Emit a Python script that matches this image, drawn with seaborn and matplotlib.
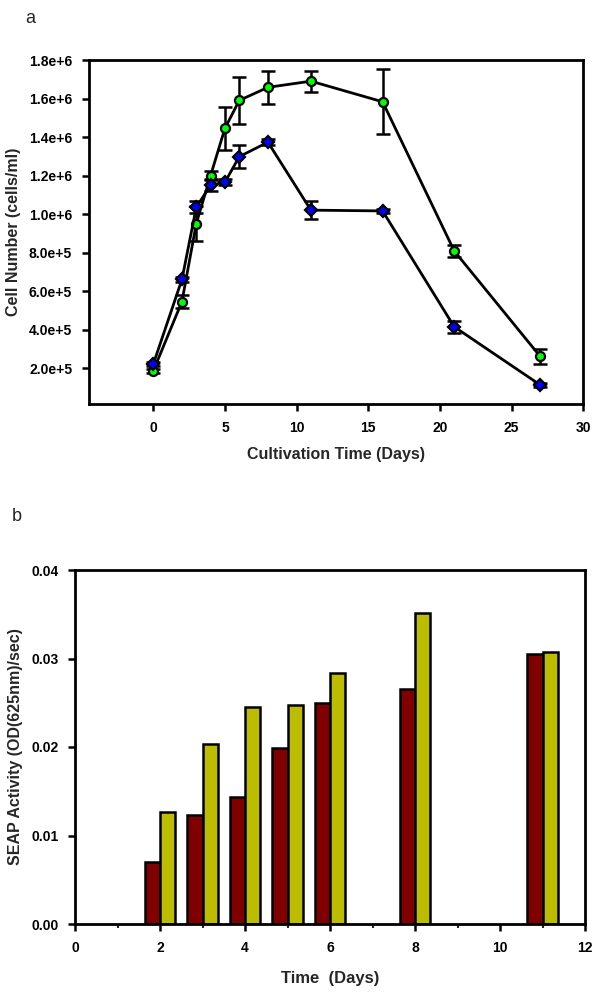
import matplotlib
matplotlib.use("Agg")
import matplotlib.pyplot as plt
import numpy as np
import pandas as pd
import seaborn as sns

# ---------------------------------------------------------------------------
# Panel a: cell number over cultivation time
# ---------------------------------------------------------------------------
days_a = [0, 2, 3, 4, 5, 6, 8, 11, 16, 21, 27]
green_cells = [1.85e5, 5.45e5, 9.5e5, 1.2e6, 1.445e6, 1.59e6, 1.658e6, 1.69e6, 1.583e6, 8.08e5, 2.6e5]
green_err = [1.2e4, 3.5e4, 9.0e4, 2.5e4, 1.1e5, 1.2e5, 8.5e4, 5.5e4, 1.7e5, 3.0e4, 4.0e4]
blue_cells = [2.2e5, 6.6e5, 1.035e6, 1.15e6, 1.165e6, 1.298e6, 1.373e6, 1.02e6, 1.016e6, 4.14e5, 1.12e5]
blue_err = [1.2e4, 1.5e4, 3.0e4, 3.0e4, 1.5e4, 6.0e4, 1.5e4, 4.5e4, 1.0e4, 3.0e4, 1.0e4]

a_yticks = [2e5, 4e5, 6e5, 8e5, 1e6, 1.2e6, 1.4e6, 1.6e6, 1.8e6]
a_yticklabels = ["2.0e+5", "4.0e+5", "6.0e+5", "8.0e+5", "1.0e+6",
                 "1.2e+6", "1.4e+6", "1.6e+6", "1.8e+6"]
a_xticks = [0, 5, 10, 15, 20, 25, 30]

# ---------------------------------------------------------------------------
# Panel b: SEAP activity
# ---------------------------------------------------------------------------
days_b = [2, 3, 4, 5, 6, 8, 11]
seap_red = [0.0070, 0.0123, 0.0143, 0.0199, 0.0250, 0.0265, 0.0305]
seap_yellow = [0.0127, 0.0203, 0.0245, 0.0247, 0.0284, 0.0351, 0.0307]
b_yticks = [0.00, 0.01, 0.02, 0.03, 0.04]
b_yticklabels = ["0.00", "0.01", "0.02", "0.03", "0.04"]
b_xticks = [0, 2, 4, 6, 8, 10, 12]

RED = "#800000"
YELLOW = "#bcbc00"
GREEN = "#00ff00"
BLUE = "#0000ff"

sns.set_style("ticks")
plt.rcParams["font.family"] = ["Liberation Sans", "DejaVu Sans"]

fig = plt.figure(figsize=(6, 10), dpi=100)
ax_a = fig.add_axes([0.148, 0.596, 0.824, 0.344])
ax_b = fig.add_axes([0.125, 0.076, 0.850, 0.354])

# --- panel a
for vals, errs, mk, col, ms in [(green_cells, green_err, "o", GREEN, 6.5),
                                (blue_cells, blue_err, "D", BLUE, 6)]:
    ax_a.errorbar(days_a, vals, yerr=errs, fmt="none", ecolor="black",
                  elinewidth=1.8, capsize=5, capthick=1.8, zorder=2)
    sns.lineplot(x=days_a, y=vals, ax=ax_a, color="black", linewidth=2,
                 marker=mk, markersize=ms, markerfacecolor=col,
                 markeredgecolor="black", markeredgewidth=1.6, zorder=3)

ax_a.set_xlim(-4.5, 30)
ax_a.set_ylim(1.3e4, 1.8e6)
ax_a.set_xticks(a_xticks)
ax_a.set_yticks(a_yticks)
ax_a.set_yticklabels(a_yticklabels)
ax_a.set_xlabel("Cultivation Time (Days)", fontsize=11.5, fontweight="bold", labelpad=9)
ax_a.set_ylabel("Cell Number (cells/ml)", fontsize=11.5, fontweight="bold", labelpad=6)

# --- panel b
df_b = pd.DataFrame({
    "day": days_b * 2,
    "activity": seap_red + seap_yellow,
    "series": ["red"] * len(days_b) + ["yellow"] * len(days_b),
})
sns.barplot(data=df_b, x="day", y="activity", hue="series", ax=ax_b,
            native_scale=True, width=0.72, palette=[RED, YELLOW],
            edgecolor="black", linewidth=1.8, errorbar=None, legend=False,
            saturation=1)

ax_b.set_xlim(0, 12)
ax_b.set_ylim(0, 0.04)
ax_b.set_xticks(b_xticks)
ax_b.set_xticks([1, 3, 5, 7, 9, 11], minor=True)
ax_b.set_yticks(b_yticks)
ax_b.set_yticklabels(b_yticklabels)
ax_b.set_xlabel("Time  (Days)", fontsize=12, fontweight="bold", labelpad=12)
ax_b.set_ylabel("SEAP Activity (OD(625nm)/sec)", fontsize=11.5, fontweight="bold", labelpad=6)

for ax in (ax_a, ax_b):
    for side in ("top", "right", "bottom", "left"):
        ax.spines[side].set_visible(True)
        ax.spines[side].set_linewidth(2)
        ax.spines[side].set_color("black")
    ax.tick_params(axis="both", which="major", direction="out", length=5,
                   width=1.8, labelsize=10, pad=7, colors="black")
    ax.tick_params(axis="both", which="minor", direction="out", length=3, width=1.5)
    ax.tick_params(top=False, right=False)
    for lab in ax.get_xticklabels() + ax.get_yticklabels():
        lab.set_fontweight("bold")

fig.text(0.042, 0.99, "a", fontsize=13, va="top")
fig.text(0.020, 0.492, "b", fontsize=13, va="top")

fig.savefig("out.png", dpi=100, facecolor="white")
